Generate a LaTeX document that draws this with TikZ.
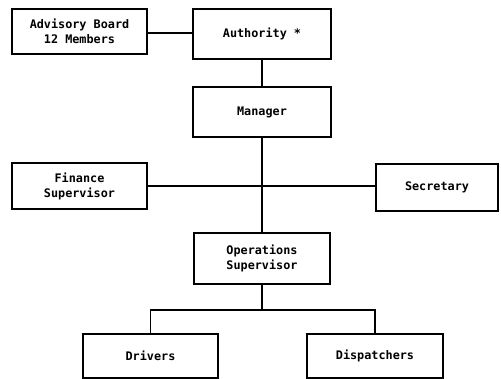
\documentclass[tikz,border=0pt]{standalone}
\usepackage{fontspec}
\setmonofont{DejaVu Sans Mono}
\begin{document}
\begin{tikzpicture}[x=1pt,y=-1pt,
  box/.style={draw,line width=1.2pt,rectangle,align=center,inner sep=0pt,
    font=\ttfamily\bfseries\fontsize{11.8}{15}\selectfont},
  link/.style={line width=1.2pt}]
\useasboundingbox (0,0) rectangle (501,379);
\node[box,minimum width=135pt,minimum height=45pt] (adv) at (79.5,31.5) {Advisory Board\\12 Members};
\node[box,minimum width=138pt,minimum height=50pt] (auth) at (262,34) {Authority *};
\node[box,minimum width=138pt,minimum height=50pt] (mgr) at (262,112) {Manager};
\node[box,minimum width=135pt,minimum height=46pt] (fin) at (79.5,186) {Finance\\Supervisor};
\node[box,minimum width=122pt,minimum height=47pt] (sec) at (437,187.5) {Secretary};
\node[box,minimum width=136pt,minimum height=51pt] (ops) at (262,258.5) {Operations\\Supervisor};
\node[box,minimum width=135pt,minimum height=44pt] (drv) at (150.5,356) {Drivers};
\node[box,minimum width=136pt,minimum height=44pt] (dis) at (375,356) {Dispatchers};
\coordinate (br) at (262,310);
\draw[link] ([yshift=-1.5pt]adv.east) -- ([yshift=-1.5pt]adv.east -| auth.west);
\draw[link] (auth.south) -- (mgr.north);
\draw[link] (mgr.south) -- (ops.north);
\draw[link] (fin.east) -- (fin.east -| sec.west);
\draw[link] (ops.south) -- (br);
\draw[link] (drv.north) |- (br) -| (dis.north);
\end{tikzpicture}
\end{document}
